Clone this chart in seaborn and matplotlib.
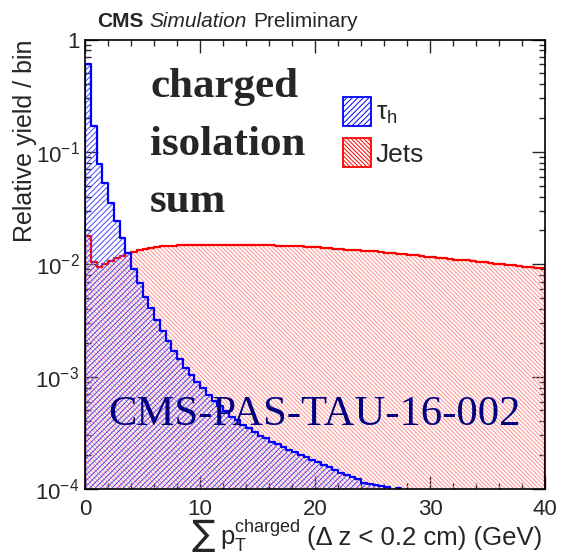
import numpy as np
import pandas as pd
import matplotlib
matplotlib.use("Agg")
import matplotlib.pyplot as plt
import matplotlib.patches as mpatches
from matplotlib.ticker import MultipleLocator, LogLocator, NullFormatter
import seaborn as sns

# ---------------- data ----------------
bin_edges = [i * 0.5 for i in range(81)]
bin_centers = [0.25 + i * 0.5 for i in range(80)]

tau_h = [0.602, 0.171, 0.0776, 0.0526, 0.0351, 0.0241, 0.01714, 0.01253, 0.00902, 0.00686,
         0.00515, 0.00406, 0.00319, 0.00257, 0.00208, 0.00169, 0.00143, 0.00120, 0.00104, 0.000903,
         0.000789, 0.000687, 0.000608, 0.000549, 0.000495, 0.000441, 0.000412, 0.000372, 0.000347, 0.000324,
         0.000297, 0.000283, 0.000264, 0.000252, 0.000235, 0.000223, 0.000215, 0.000201, 0.000194, 0.000181,
         0.000175, 0.000164, 0.000158, 0.000148, 0.000138, 0.000133, 0.000129, 0.000122, 0.000114, 0.000111,
         0.000109, 0.000106, 0.000104, 0.0, 0.000102, 0.0, 0.0, 0.0, 0.0, 0.0,
         0.0, 0.0, 0.0, 0.0, 0.0, 0.0, 0.0, 0.0, 0.0, 0.0,
         0.0, 0.0, 0.0, 0.0, 0.0, 0.0, 0.0, 0.0, 0.0, 0.0]

jets = [0.01786, 0.01042, 0.00952, 0.0100, 0.0107, 0.0113, 0.0119, 0.01253, 0.01294,
        0.0133, 0.0137, 0.0140, 0.0142, 0.0144, 0.0145, 0.0146, 0.0147, 0.0147, 0.0148, 0.0148,
        0.0149, 0.0149, 0.0149, 0.0149, 0.0149, 0.0149, 0.0149, 0.0149, 0.0148, 0.0148,
        0.0148, 0.0147, 0.0147, 0.0146, 0.0146, 0.0145, 0.0144, 0.0144, 0.0143, 0.0142,
        0.0141, 0.0140, 0.0139, 0.0137, 0.0136, 0.0135, 0.0134, 0.0133, 0.0132, 0.0131,
        0.0130, 0.0128, 0.0127, 0.0126, 0.0124, 0.0123, 0.0121, 0.0120, 0.0119, 0.0117,
        0.0116, 0.0114, 0.0113, 0.0112, 0.0110, 0.0109, 0.0108, 0.0106, 0.0105, 0.0104,
        0.0102, 0.0101, 0.0100, 0.0099, 0.0098, 0.0096, 0.0095, 0.0094, 0.0093, 0.0092]

x_ticks = [0, 10, 20, 30, 40]
x_tick_labels = ["0", "10", "20", "30", "40"]
y_ticks = [1e-4, 1e-3, 1e-2, 1e-1, 1.0]
y_tick_labels = [r"$10^{-4}$", r"$10^{-3}$", r"$10^{-2}$", r"$10^{-1}$", "1"]

df = pd.DataFrame({"pt": bin_centers, "tau": tau_h, "jet": jets})

# ---------------- style ----------------
sns.set_style("ticks")
plt.rcParams["font.family"] = ["Liberation Sans", "DejaVu Sans"]
plt.rcParams["mathtext.fontset"] = "custom"
plt.rcParams["mathtext.rm"] = "Liberation Sans"
plt.rcParams["mathtext.it"] = "Liberation Sans:italic"
plt.rcParams["mathtext.bf"] = "Liberation Sans:bold"
plt.rcParams["hatch.linewidth"] = 0.7

W, H = 561, 556
fig = plt.figure(figsize=(W / 100, H / 100), dpi=100)
ax = fig.add_axes([85 / W, 1 - 489 / H, 460 / W, (489 - 39.5) / H])


def draw_hist(col, hatch_color, line_color, hatch):
    # hatch layer
    sns.histplot(data=df, x="pt", weights=col, bins=bin_edges, element="step", fill=True,
                 color=hatch_color, ax=ax,
                 facecolor="none", edgecolor=hatch_color, hatch=hatch, linewidth=0)
    # outline
    sns.histplot(data=df, x="pt", weights=col, bins=bin_edges, element="step", fill=True,
                 color=line_color, ax=ax,
                 facecolor="none", edgecolor=line_color, linewidth=1.6)


draw_hist("jet", "#ff9090", "#ff0000", "\\" * 8)
draw_hist("tau", "#4848ff", "#0000ff", "/" * 6)

ax.set_yscale("log")
ax.set_xlim(0, 40)
ax.set_ylim(1e-4, 1.0)
ax.set_xticks(x_ticks)
ax.set_xticklabels(x_tick_labels)
ax.set_yticks(y_ticks)
ax.set_yticklabels(y_tick_labels)
ax.xaxis.set_minor_locator(MultipleLocator(2))
ax.yaxis.set_minor_locator(LogLocator(base=10, subs=np.arange(2, 10)))
ax.yaxis.set_minor_formatter(NullFormatter())
ax.tick_params(which="both", direction="in", top=True, right=True, width=1.0, labelsize=16)
ax.tick_params(which="major", length=9.3)
ax.tick_params(which="minor", length=4.5)
ax.tick_params(axis="y", which="major", pad=4)
ax.tick_params(axis="x", which="major", pad=7)
for s in ax.spines.values():
    s.set_linewidth(1.2)
    s.set_color("black")

ax.set_ylabel("Relative yield / bin", fontsize=18, loc="top")
ax.yaxis.set_label_coords((37 - 85) / 460, 1.0)
ax.set_xlabel("(Δ z < 0.2 cm) (GeV)", fontsize=18.5, loc="right")
ax.xaxis.label.set_va("baseline")
ax.xaxis.set_label_coords((542 - 85) / 460, -(545 - 489) / 449.5)

# legend
handles = [mpatches.Patch(facecolor="white", edgecolor="#0000ff", hatch="/" * 6, linewidth=1.3),
           mpatches.Patch(facecolor="white", edgecolor="#ff0000", hatch="\\" * 8, linewidth=1.3)]
ax.legend(handles, [r"τ$_{\mathrm{h}}$", "Jets"], loc="upper left",
          bbox_to_anchor=((343 - 85) / 460, 1 - (97 - 39.5) / 449.5), frameon=False,
          fontsize=19, handlelength=1.05, handleheight=1.3, handletextpad=0.2,
          labelspacing=0.45, borderpad=0, borderaxespad=0)

# big annotation texts
for txt, yb in [("charged", 97), ("isolation", 155), ("sum", 212)]:
    fig.text(150 / W, 1 - yb / H, txt, fontsize=31, fontweight="bold",
             family="Liberation Serif", va="baseline", ha="left")
fig.text(108 / W, 1 - 425 / H, "CMS-PAS-TAU-16-002", fontsize=30.7, color="#000080",
         family="Liberation Serif", va="baseline", ha="left")

# CMS header
fig.canvas.draw()
r = fig.canvas.get_renderer()
x0 = 97 / W
yb = 1 - 27 / H
for txt, kw in [("CMS", dict(fontweight="bold")), ("Simulation", dict(style="italic")),
                ("Preliminary", dict())]:
    t = fig.text(x0, yb, txt, fontsize=15, va="baseline", ha="left", **kw)
    bb = t.get_window_extent(r)
    x0 = (bb.x1 + 6) / W

# leading part of the x-axis title: sum sign and p_T^charged
bb = ax.xaxis.label.get_window_extent(r)
pt_txt = fig.text((bb.x0 - 6) / W, 1 - 545 / H,
                  r"$\mathrm{p}_{\mathrm{T}}^{\mathrm{charged}}$", fontsize=18.5,
                  ha="right", va="baseline")
bb2 = pt_txt.get_window_extent(r)
fig.text((bb2.x0 - 5) / W, 1 - 545 / H, "∑", fontsize=25, family="DejaVu Sans",
         ha="right", va="baseline")

fig.savefig("out.png", dpi=100)
